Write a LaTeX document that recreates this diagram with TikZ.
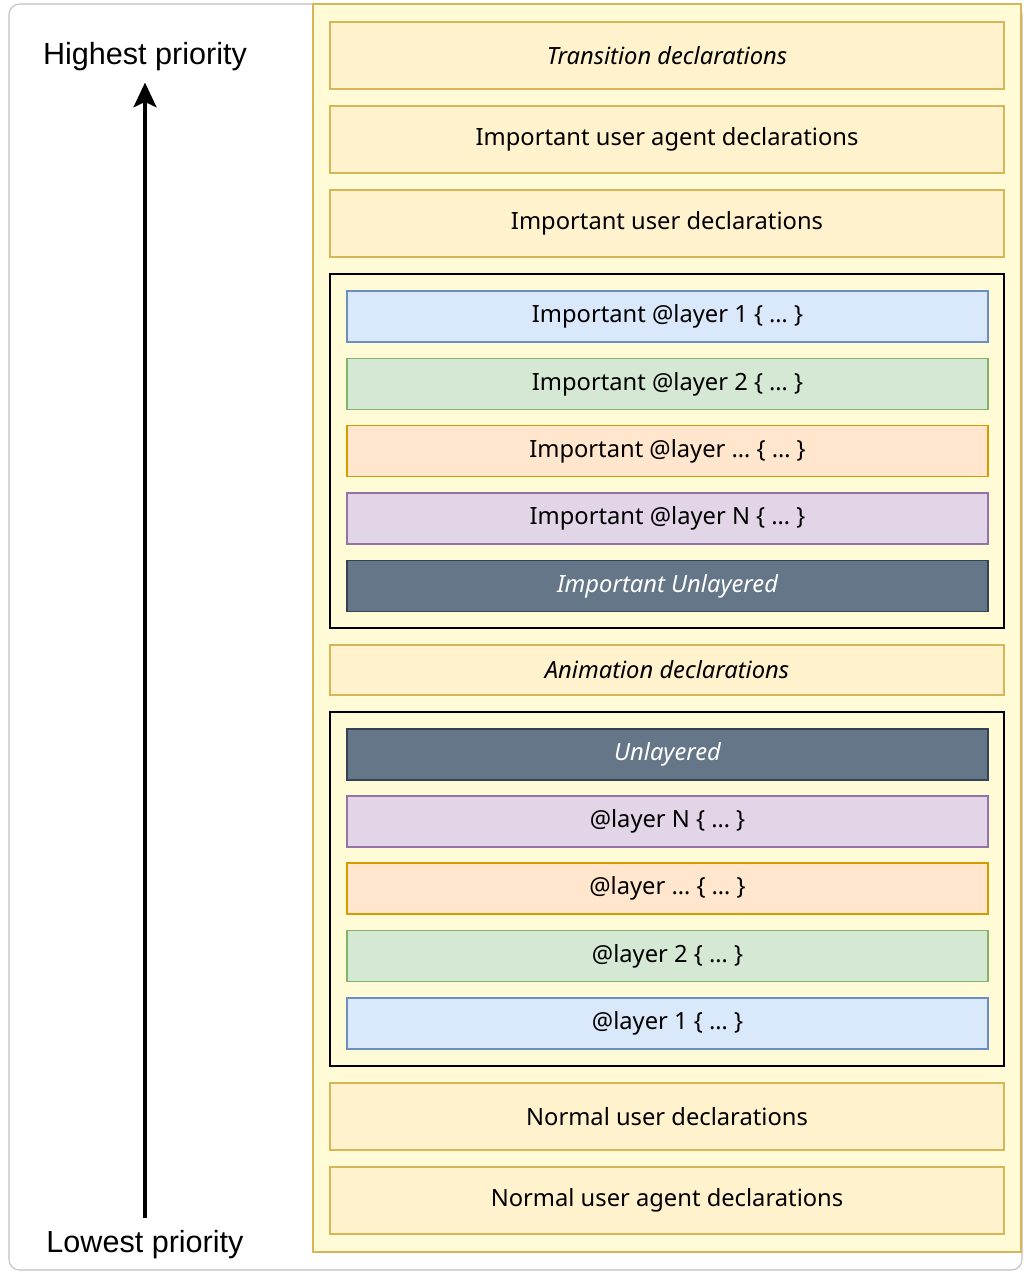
\documentclass[tikz,border=0pt]{standalone}
\usepackage{fontspec}
\setmainfont{Noto Sans}
\newfontfamily\arialfont{Liberation Sans}
\usetikzlibrary{arrows.meta}

\definecolor{panelfill}{HTML}{FFFBD6}
\definecolor{goldline}{HTML}{D6B656}
\definecolor{goldfill}{HTML}{FFF2CC}
\definecolor{bluefill}{HTML}{DAE8FC}
\definecolor{blueline}{HTML}{6C8EBF}
\definecolor{greenfill}{HTML}{D5E8D4}
\definecolor{greenline}{HTML}{82B366}
\definecolor{orangefill}{HTML}{FFE6CC}
\definecolor{orangeline}{HTML}{D79B00}
\definecolor{purplefill}{HTML}{E1D5E7}
\definecolor{purpleline}{HTML}{9673A6}
\definecolor{slatefill}{HTML}{647687}
\definecolor{slateline}{HTML}{314354}

\tikzset{
  decl/.style={draw=goldline, fill=goldfill, line width=0.8pt,
    minimum width=674*0.02cm, minimum height=67*0.02cm, inner sep=0pt,
    font=\fontsize{13.5}{16}\selectfont},
  layerbox/.style={line width=0.8pt, minimum width=641*0.02cm,
    minimum height=51*0.02cm, inner sep=0pt, font=\fontsize{13.5}{16}\selectfont},
  group/.style={draw=black, line width=0.8pt, minimum width=674*0.02cm,
    minimum height=354*0.02cm, inner sep=0pt},
  prio/.style={font=\arialfont\fontsize{17.4}{20}\selectfont, inner sep=0pt}
}

\begin{document}
\begin{tikzpicture}[x=0.02cm, y=-0.02cm]

	\useasboundingbox (0,0) rectangle (1024,1281);
	\draw[draw=black!25, line width=0.6pt, rounded corners=6pt] (9,4) rectangle (1022,1270);
	\draw[draw=goldline, fill=panelfill, line width=0.8pt] (313,4) rectangle (1021,1252);

	% top declarations
	\node[decl] (trans) at (667,55.5) {\itshape Transition declarations};
	\node[decl] (iuagent) at (667,139.5) {Important user agent declarations};
	\node[decl] (iuser) at (667,223.5) {Important user declarations};

	% important layers
	\node[group] (impgroup) at (667,451) {};
	\node[layerbox, draw=blueline, fill=bluefill] (imp1) at (667.5,316.5) {Important @layer 1 \{ \dots\ \}};
	\node[layerbox, draw=greenline, fill=greenfill] (imp2) at (667.5,384) {Important @layer 2 \{ \dots\ \}};
	\node[layerbox, draw=orangeline, fill=orangefill] (impdots) at (667.5,451) {Important @layer \dots\ \{ \dots\ \}};
	\node[layerbox, draw=purpleline, fill=purplefill] (impN) at (667.5,518.5) {Important @layer N \{ \dots\ \}};
	\node[layerbox, draw=slateline, fill=slatefill, text=white] (impun) at (667.5,586) {\itshape Important Unlayered};

	\node[decl, minimum height=50*0.02cm] (anim) at (667,670) {\itshape Animation declarations};

	% normal layers
	\node[group] (normgroup) at (667,889) {};
	\node[layerbox, draw=slateline, fill=slatefill, text=white] (unlay) at (667.5,754.5) {\itshape Unlayered};
	\node[layerbox, draw=purpleline, fill=purplefill] (layN) at (667.5,821.5) {@layer N \{ \dots\ \}};
	\node[layerbox, draw=orangeline, fill=orangefill] (laydots) at (667.5,888.5) {@layer \dots\ \{ \dots\ \}};
	\node[layerbox, draw=greenline, fill=greenfill] (lay2) at (667.5,956) {@layer 2 \{ \dots\ \}};
	\node[layerbox, draw=blueline, fill=bluefill] (lay1) at (667.5,1023.5) {@layer 1 \{ \dots\ \}};

	% bottom declarations
	\node[decl] (nuser) at (667,1116.5) {Normal user declarations};
	\node[decl] (nuagent) at (667,1200.5) {Normal user agent declarations};

	% priority axis
	\node[prio] (high) at (145,57) {Highest priority};
	\node[prio] (low) at (145,1245) {Lowest priority};
	\draw[line width=2.3pt, -{Stealth[length=14pt, width=13pt, inset=3pt]},
	  shorten <=0.25cm, shorten >=0.22cm] (low.north) -- (high.south);

\end{tikzpicture}
\end{document}
